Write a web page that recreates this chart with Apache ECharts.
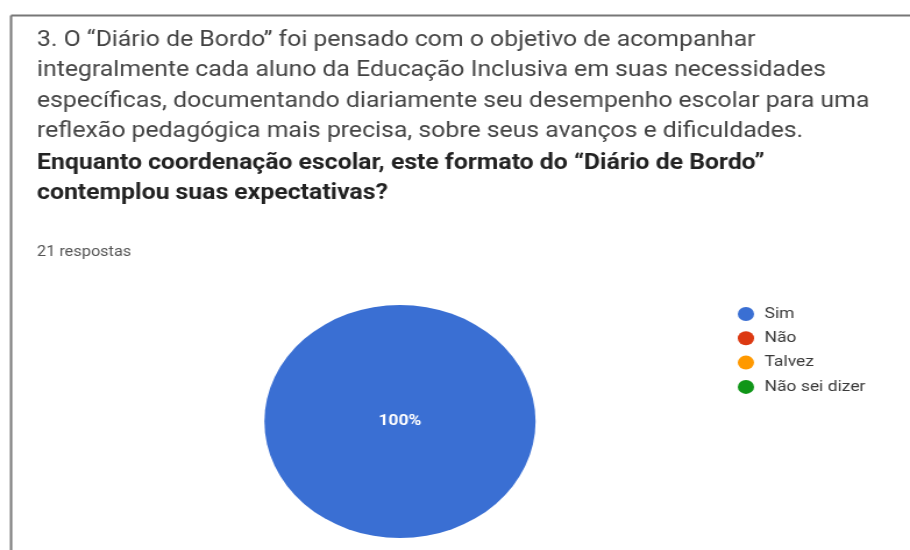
<!DOCTYPE html>
<html>
<head>
<meta charset="utf-8">
<script src="https://cdn.jsdelivr.net/npm/echarts@6/dist/echarts.min.js"></script>
<style>
html,body{margin:0;padding:0;background:#fff;overflow:hidden;}
#wrap{width:910px;height:550px;overflow:hidden;position:relative;}
#chart{width:782px;height:550px;position:absolute;left:0;top:0;transform:scaleX(1.1637);transform-origin:0 0;}
</style>
</head>
<body>
<div id="wrap"><div id="chart"></div></div>
<script>
const questionLines = [
  '3. O “Diário de Bordo” foi pensado com o objetivo de acompanhar',
  'integralmente cada aluno da Educação Inclusiva em suas necessidades',
  'específicas, documentando diariamente seu desempenho escolar para uma',
  'reflexão pedagógica mais precisa, sobre seus avanços e dificuldades.'
];
const questionBold = [
  'Enquanto coordenação escolar, este formato do “Diário de Bordo”',
  'contemplou suas expectativas?'
];
const responsesText = '21 respostas';
const categories = ['Sim', 'Não', 'Talvez', 'Não sei dizer'];
const counts = [21, 0, 0, 0];
const colors = ['#3a6fd3', '#dc3912', '#ff9900', '#109618'];

const chart = echarts.init(document.getElementById('chart'), null, {renderer: 'canvas'});
const FONT = 'Roboto, "Noto Sans", sans-serif';
chart.setOption({
  animation: false,
  color: colors,
  title: [
    {text: questionLines.join('\n'), left: 31.8, top: 25, padding: 0,
     textStyle: {fontFamily: FONT, fontSize: 21.3, fontWeight: 'normal', color: '#444', lineHeight: 30.5}},
    {text: questionBold.join('\n'), left: 31.8, top: 148, padding: 0,
     textStyle: {fontFamily: FONT, fontSize: 21.3, fontWeight: 'bold', color: '#222', lineHeight: 30.5}},
    {text: responsesText, left: 31.8, top: 244, padding: 0,
     textStyle: {fontFamily: FONT, fontSize: 14, fontWeight: 'normal', color: '#555', lineHeight: 16}}
  ],
  graphic: [
    {type: 'line', shape: {x1: 9.5, y1: 15.5, x2: 782, y2: 15.5}, style: {stroke: '#777', lineWidth: 2}},
    {type: 'line', shape: {x1: 9.5, y1: 15.5, x2: 9.5, y2: 550}, style: {stroke: '#777', lineWidth: 2}}
  ],
  legend: {
    orient: 'vertical', left: 634, top: 306.5, padding: 0,
    icon: 'circle', itemWidth: 14, itemHeight: 14, itemGap: 9.3,
    selectedMode: false,
    textStyle: {fontFamily: FONT, fontSize: 15, color: '#3a3a3a', lineHeight: 14, padding: [0, 0, 0, 4]},
    data: categories
  },
  series: [{
    type: 'pie',
    center: [343.7, 421.5],
    radius: [0, 116.5],
    startAngle: 90,
    stillShowZeroSum: false,
    silent: true,
    itemStyle: {borderWidth: 0},
    label: {
      show: true, position: 'center',
      formatter: p => p.value > 0 ? Math.round(p.percent) + '%' : '',
      color: '#fff', fontFamily: FONT, fontSize: 15, fontWeight: 'bold'
    },
    labelLine: {show: false},
    data: categories.map((c, i) => ({name: c, value: counts[i]}))
  }]
});
</script>
</body>
</html>
